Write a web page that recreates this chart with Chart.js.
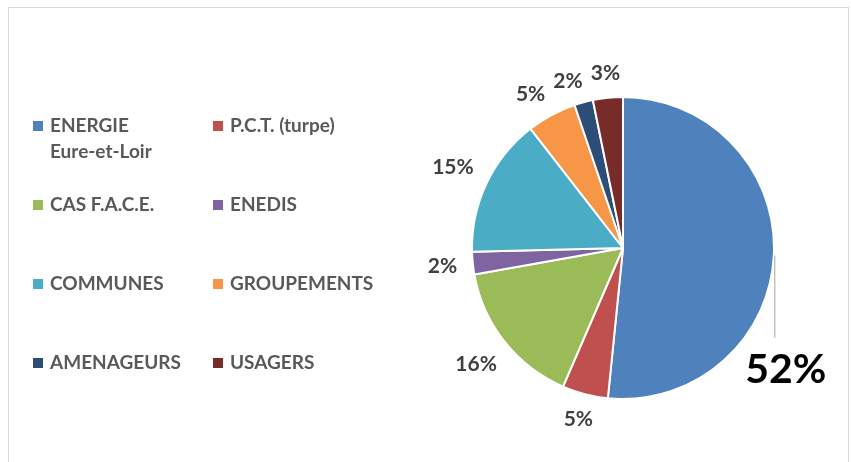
<!DOCTYPE html>
<html>
<head>
<meta charset="utf-8">
<script src="https://cdn.jsdelivr.net/npm/chart.js@4"></script>
<style>
  html, body { margin: 0; padding: 0; background: #fff; }
  #wrap { position: relative; width: 851px; height: 462px; overflow: hidden; }
  #frame { position: absolute; left: 8px; top: 7px; width: 841px; height: 470px; border: 1px solid #d9d9d9; box-sizing: border-box; }
  #chart { position: absolute; left: 0; top: 0; }
</style>
</head>
<body>
<div id="wrap">
  <div id="frame"></div>
  <canvas id="chart" width="851" height="462"></canvas>
</div>
<script>
// --- DATA ---
const labels = ['ENERGIE Eure-et-Loir', 'P.C.T. (turpe)', 'CAS F.A.C.E.', 'ENEDIS', 'COMMUNES', 'GROUPEMENTS', 'AMENAGEURS', 'USAGERS'];
const shares = [51.6, 4.9, 15.7, 2.4, 14.9, 5.3, 2.0, 3.2];
const pctLabels = ['52%', '5%', '16%', '2%', '15%', '5%', '2%', '3%'];
const colors = ['#4F81BD', '#C0504D', '#9BBB59', '#8064A2', '#4BACC6', '#F79646', '#2C4D75', '#772C2A'];

const FONT = 'Lato, "Open Sans", sans-serif';
const TEXT = '#595959';

// Legend drawn by hand: two columns, Excel style
const legendPlugin = {
    id: 'sideLegend',
    afterDraw(chart) {
        const ctx = chart.ctx;
        const colX = [33, 213];
        const rowY0 = 126, rowGap = 79, lineGap = 26, maxW = 160;
        ctx.save();
        ctx.font = 'bold 19px ' + FONT;
        ctx.textBaseline = 'middle';
        ctx.textAlign = 'left';
        chart.data.labels.forEach((lab, i) => {
            const x = colX[i % 2];
            const y = rowY0 + Math.floor(i / 2) * rowGap;
            ctx.fillStyle = chart.data.datasets[0].backgroundColor[i];
            ctx.fillRect(x, y - 5, 10, 10);
            // simple word wrap
            const words = lab.split(' ');
            let lines = [], cur = '';
            words.forEach(w => {
                const t = cur ? cur + ' ' + w : w;
                if (ctx.measureText(t).width > maxW && cur) { lines.push(cur); cur = w; }
                else cur = t;
            });
            lines.push(cur);
            ctx.fillStyle = TEXT;
            lines.forEach((l, k) => ctx.fillText(l, x + 17, y + k * lineGap));
        });
        ctx.restore();
    }
};

// Percent labels outside the slices
const outLabels = {
    id: 'outLabels',
    afterDatasetsDraw(chart) {
        const ctx = chart.ctx;
        const meta = chart.getDatasetMeta(0);
        ctx.save();
        ctx.textAlign = 'center';
        ctx.textBaseline = 'middle';
        ctx.font = 'bold 21px ' + FONT;
        const h = 16;
        const boxes = [];
        meta.data.forEach((arc, i) => {
            const p = arc.getProps(['x', 'y', 'startAngle', 'endAngle', 'outerRadius']);
            const mid = (p.startAngle + p.endAngle) / 2;
            const dx = Math.cos(mid), dy = Math.sin(mid);
            const w = ctx.measureText(pctLabels[i]).width;
            const d = p.outerRadius + 15 + Math.abs(dx) * w / 2 + Math.abs(dy) * h / 2;
            boxes.push({ p, dx, dy, w, x: p.x + d * dx, y: p.y + d * dy });
        });
        // push small labels apart (walk counter-clockwise from the last one)
        for (let i = boxes.length - 2; i >= 1; i--) {
            const a = boxes[i], b = boxes[i + 1];
            const overlapX = (a.w + b.w) / 2 + 8 - Math.abs(b.x - a.x);
            const overlapY = h + 2 - Math.abs(b.y - a.y);
            if (overlapX > 0 && overlapY > 0) {
                a.x -= overlapX;
                a.y += 5;
            }
        }
        boxes.forEach((bx, i) => {
            const txt = pctLabels[i];
            if (i === 0) {
                // big label with leader line
                const ax = bx.p.x + bx.p.outerRadius * bx.dx, ay = bx.p.y + bx.p.outerRadius * bx.dy;
                ctx.strokeStyle = '#a6a6a6';
                ctx.lineWidth = 1;
                ctx.beginPath();
                ctx.moveTo(ax + 1, ay);
                ctx.lineTo(ax + 1, ay + 82);
                ctx.stroke();
                ctx.font = 'bold 41px ' + FONT;
                ctx.fillStyle = '#000';
                ctx.fillText(txt, ax + 12, ay + 114);
                ctx.font = 'bold 21px ' + FONT;
                return;
            }
            ctx.fillStyle = '#404040';
            ctx.fillText(txt, bx.x, bx.y);
        });
        ctx.restore();
    }
};

new Chart(document.getElementById('chart'), {
    type: 'pie',
    data: {
        labels: labels,
        datasets: [{
            data: shares,
            backgroundColor: colors,
            borderColor: '#ffffff',
            borderWidth: 2
        }]
    },
    options: {
        responsive: false,
        animation: false,
        layout: { padding: { left: 471, right: 76, top: 95, bottom: 61 } },
        plugins: {
            legend: { display: false },
            tooltip: { enabled: false }
        }
    },
    plugins: [legendPlugin, outLabels]
});
</script>
</body>
</html>
